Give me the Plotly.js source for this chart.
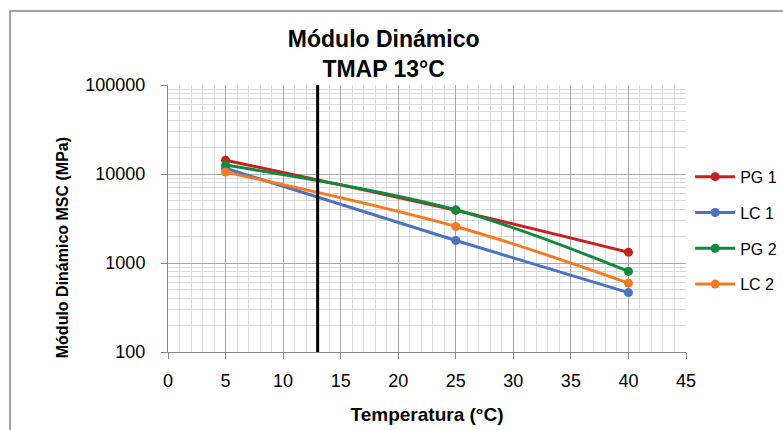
<!DOCTYPE html>
<html><head><meta charset="utf-8">
<script src="https://cdn.plot.ly/plotly-3.0.1.min.js"></script>
<style>html,body{margin:0;padding:0;background:#fff}#chart{width:783px;height:430px}</style>
</head><body><div id="chart"></div>
<script>
const temps = [5, 25, 40];
const seriesNames = ['PG 1', 'LC 1', 'PG 2', 'LC 2'];
const pg1 = [14300, 3900, 1320];
const lc1 = [11600, 1790, 465];
const pg2 = [12600, 3960, 805];
const lc2 = [10500, 2570, 595];
const tmap = 13;
const yMin = 100, yMax = 100000;
const xTickVals = [0, 5, 10, 15, 20, 25, 30, 35, 40, 45];
const yTickVals = [100, 1000, 10000, 100000];
const yTickText = ['100', '1000', '10000', '100000'];

const colors = ['#C8201E', '#4A74C2', '#0E8A3E', '#F47B20'];
const values = [pg1, lc1, pg2, lc2];

const traces = values.map((v, i) => ({
  x: temps, y: v, name: seriesNames[i], type: 'scatter', mode: 'lines+markers',
  line: {color: colors[i], width: 3, shape: 'spline', smoothing: 1},
  marker: {color: colors[i], size: 9},
  legendgroup: 'g' + i
}));
traces.push({
  x: [tmap, tmap], y: [yMin, yMax], type: 'scatter', mode: 'lines',
  line: {color: '#000', width: 3}, showlegend: false, hoverinfo: 'skip'
});

const font = 'Liberation Sans, Arial, sans-serif';
const layout = {
  width: 783, height: 430,
  margin: {l: 168, r: 97, t: 85, b: 78, autoexpand: false},
  paper_bgcolor: '#fff', plot_bgcolor: '#fff',
  font: {family: font, color: '#000'},
  title: {
    text: '<b>Módulo Dinámico<br>TMAP 13°C</b>',
    font: {family: font, size: 23, color: '#000'},
    x: 0.49, xref: 'container', xanchor: 'center',
    y: 0.89, yref: 'container', yanchor: 'middle'
  },
  xaxis: {
    range: [0, 45], tickvals: xTickVals, ticks: 'outside', ticklen: 6, tickcolor: '#868686',
    showline: true, linecolor: '#868686', linewidth: 1,
    showgrid: true, gridcolor: '#a6a6a6', gridwidth: 1, zeroline: false,
    tickfont: {family: font, size: 18}, ticklabelstandoff: 6,
    minor: {dtick: 1, showgrid: true, gridcolor: '#d9d9d9', gridwidth: 1},
    title: {text: '<b>Temperatura (°C)</b>', font: {family: font, size: 19}, standoff: 18}
  },
  yaxis: {
    type: 'log', range: [Math.log10(yMin), Math.log10(yMax)],
    tickvals: yTickVals, ticktext: yTickText, ticks: 'outside', ticklen: 6, tickcolor: '#868686',
    showline: true, linecolor: '#868686', linewidth: 1,
    showgrid: true, gridcolor: '#a6a6a6', gridwidth: 1, zeroline: false,
    tickfont: {family: font, size: 18}, ticklabelstandoff: 12,
    minor: {dtick: 'D1', showgrid: true, gridcolor: '#d9d9d9', gridwidth: 1}
  },
  annotations: [{
    text: '<b>Módulo Dinámico MSC (MPa)</b>', textangle: -90,
    xref: 'paper', yref: 'paper', x: -0.202, y: 0.39, xanchor: 'center', yanchor: 'middle',
    showarrow: false, font: {family: font, size: 16, color: '#000'}
  }],
  showlegend: true,
  legend: {
    x: 1.008, xanchor: 'left', y: 0.72, yanchor: 'top', itemwidth: 40,
    font: {family: font, size: 16, color: '#000'},
    traceorder: 'grouped', tracegroupgap: 12, bgcolor: 'rgba(0,0,0,0)'
  },
  shapes: [{
    type: 'rect', xref: 'paper', yref: 'paper',
    x0: -0.305, x1: 1.3, y0: -0.4, y1: 1.277,
    line: {color: '#868686', width: 1.5}, fillcolor: 'rgba(0,0,0,0)', layer: 'above'
  }]
};
Plotly.newPlot('chart', traces, layout, {displayModeBar: false, staticPlot: true});
</script></body></html>
